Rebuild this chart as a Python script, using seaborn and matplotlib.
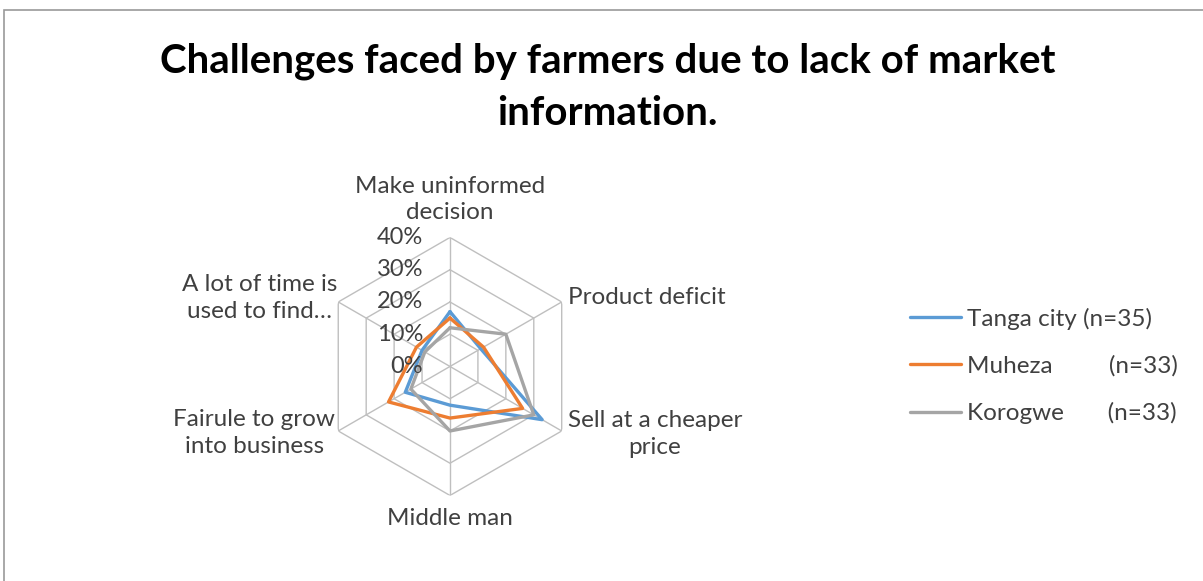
import numpy as np
import pandas as pd
import seaborn as sns
import matplotlib.pyplot as plt
from matplotlib.patches import Rectangle
from matplotlib.lines import Line2D

categories = ["Make uninformed\ndecision", "Product deficit", "Sell at a cheaper\nprice",
              "Middle man", "Fairule to grow\ninto business", "A lot of time is\nused to find\u2026"]
series = ["Tanga city (n=35)", "Muheza         (n=33)", "Korogwe       (n=33)"]
tanga = [0.17, 0.11, 0.33, 0.12, 0.16, 0.10]
muheza = [0.15, 0.12, 0.26, 0.16, 0.22, 0.12]
korogwe = [0.12, 0.20, 0.30, 0.20, 0.14, 0.09]
ticks = [0.0, 0.1, 0.2, 0.3, 0.4]
tick_labels = ["0%", "10%", "20%", "30%", "40%"]
colors = ["#5B9BD5", "#ED7D31", "#A5A5A5"]

sns.set_theme(style="white")
plt.rcParams['font.family'] = ['Lato', 'DejaVu Sans']

n = len(categories)
theta = np.linspace(0, 2 * np.pi, n + 1)

rows = []
for name, vals in zip(series, [tanga, muheza, korogwe]):
    closed = list(vals) + [vals[0]]
    for t, v in zip(theta, closed):
        rows.append({"theta": t, "value": v, "region": name})
df = pd.DataFrame(rows)

fig = plt.figure(figsize=(12.03, 5.81), dpi=100)
fig.patches.append(Rectangle((4 / 1203, -0.05), 1.1, 1.05 - 10 / 581,
                             transform=fig.transFigure, fill=False, edgecolor="#9A9A9A", lw=1.2))

ax = fig.add_axes([0.2668, 0.1472, 0.2145, 0.4441], projection="polar")
ax.set_theta_zero_location("N")
ax.set_theta_direction(-1)
ax.set_ylim(0, 0.4)
ax.grid(False)
ax.set_xticks([])
ax.set_yticks([])
ax.spines["polar"].set_visible(False)
ax.set_facecolor("none")

# hexagonal grid
for r in ticks[1:]:
    ax.plot(theta, [r] * (n + 1), color="#BFBFBF", lw=1, zorder=1)
for t in theta[:-1]:
    ax.plot([t, t], [0, 0.4], color="#BFBFBF", lw=1, zorder=1)

sns.lineplot(data=df, x="theta", y="value", hue="region", palette=colors, sort=False,
             estimator=None, lw=2.4, ax=ax, legend=False, zorder=3)
ax.set_xlabel("")
ax.set_ylabel("")

for r, lab in zip(ticks, tick_labels):
    ax.annotate(lab, xy=(0, r), xytext=(-27, 0), textcoords="offset pixels",
                ha="right", va="center", fontsize=17, color="#404040", zorder=4,
                annotation_clip=False)

offsets = [(0, 14, "center", "bottom"), (6, 4, "left", "center"), (6, -3, "left", "center"),
           (0, -13, "center", "top"), (-3, -2, "right", "center"), (-1, 4, "right", "center")]
for t, lab, (dx, dy, ha, va) in zip(theta[:-1], categories, offsets):
    ax.annotate(lab, xy=(t, 0.4), xytext=(dx, dy), textcoords="offset pixels",
                ha=ha, va=va, multialignment="center", fontsize=17.5, color="#404040",
                linespacing=1.35, annotation_clip=False)

fig.text(0.505, 0.85, "Challenges faced by farmers due to lack of market\ninformation.",
         ha="center", va="center", fontsize=29, fontweight="bold", color="black",
         linespacing=1.5)

handles = [Line2D([], [], color=c, lw=2.4) for c in colors]
fig.legend(handles, series, loc="center left", bbox_to_anchor=(0.738, 0.37), frameon=False,
           fontsize=17.5, labelspacing=1.05, handlelength=2.1, handletextpad=0.25,
           labelcolor="#404040")

fig.savefig("out.png", dpi=100)
